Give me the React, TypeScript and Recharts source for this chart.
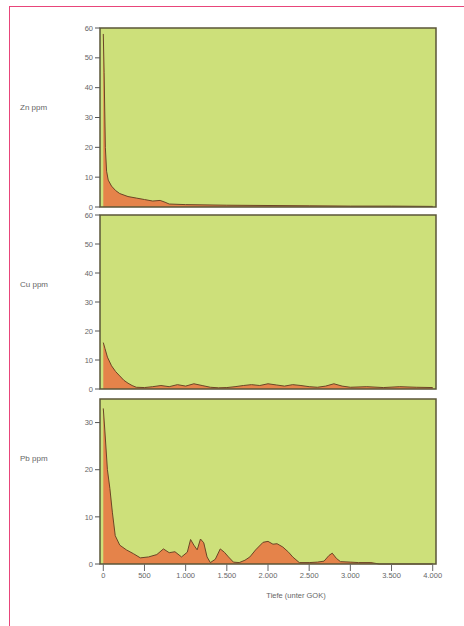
import React from 'react';
import { AreaChart, Area, XAxis, YAxis, CartesianGrid, ReferenceArea } from 'recharts';

const xTicks = [0, 500, 1000, 1500, 2000, 2500, 3000, 3500, 4000];
const xDomain = [-40, 4040];

const znX = [0, 10, 25, 40, 60, 100, 150, 200, 300, 400, 500, 600, 690, 750, 800, 1000, 1500, 2000, 2500, 3000, 3500, 4000];
const znY = [58, 45, 20, 12, 9, 7, 5.5, 4.5, 3.5, 3, 2.5, 2, 2.2, 1.6, 1, 0.8, 0.6, 0.5, 0.4, 0.3, 0.3, 0.2];

const cuX = [0, 20, 50, 100, 150, 200, 250, 300, 350, 400, 500, 600, 700, 800, 900, 1000, 1100, 1200, 1300, 1400, 1500, 1600, 1700, 1800, 1900, 2000, 2100, 2200, 2300, 2400, 2500, 2600, 2700, 2800, 2900, 3000, 3200, 3400, 3600, 3800, 4000];
const cuY = [16, 14, 11, 8, 6, 4.5, 3, 2, 1.2, 0.6, 0.5, 0.8, 1.2, 0.8, 1.5, 1.0, 1.8, 1.2, 0.6, 0.4, 0.5, 0.8, 1.2, 1.5, 1.2, 1.8, 1.4, 1.0, 1.5, 1.2, 0.8, 0.6, 1.0, 1.8, 1.0, 0.6, 0.8, 0.5, 0.8, 0.6, 0.5];

const pbX = [0, 20, 50, 80, 110, 145, 200, 280, 365, 450, 550, 650, 730, 800, 870, 950, 1020, 1060, 1100, 1140, 1180, 1220, 1260, 1300, 1360, 1420, 1470, 1520, 1580, 1650, 1720, 1780, 1850, 1940, 2000, 2060, 2110, 2180, 2250, 2300, 2380, 2500, 2600, 2680, 2740, 2780, 2830, 2880, 3000, 3100, 3250, 3350, 4000];
const pbY = [33, 28, 20, 16, 11, 6, 4, 3, 2.2, 1.3, 1.5, 2, 3.2, 2.4, 2.6, 1.5, 2.5, 5.2, 4, 3, 5.3, 4.5, 1.5, 0.3, 1, 3.2, 2.5, 1.5, 0.4, 0.3, 0.8, 1.5, 3, 4.6, 4.8, 4.2, 4.3, 3.6, 2.5, 1.5, 0.3, 0.3, 0.4, 0.6, 1.8, 2.3, 1.2, 0.5, 0.4, 0.3, 0.3, 0, 0];

const labels = ['Zn ppm', 'Cu ppm', 'Pb ppm'];
const xLabel = 'Tiefe (unter GOK)';

const toRows = (xs: number[], ys: number[]) => xs.map((x, i) => ({ x, v: ys[i] }));

const W = 464;
const H = 626;
const GREEN = '#cde07a';
const ORANGE = '#e5834a';
const DARK = '#5b5538';
const FONT = 'Liberation Sans, Arial, sans-serif';

const fmt = (v: number) => (v >= 1000 ? `${Math.floor(v / 1000)}.${String(v % 1000).padStart(3, '0')}` : String(v));

type PanelProps = {
  xs: number[];
  ys: number[];
  top: number;
  bottom: number;
  yMax: number;
  yTicks: number[];
  label: string;
  labelDy: number;
  showX?: boolean;
};

function Panel({ xs, ys, top, bottom, yMax, yTicks, label, labelDy, showX }: PanelProps) {
  const data = toRows(xs, ys);
  const xAxisH = showX ? 30 : 0;
  return (
    <div style={{ position: 'absolute', left: 0, top: 0 }}>
      <AreaChart
        width={W}
        height={H}
        data={data}
        margin={{ top, bottom: H - bottom - xAxisH, left: 0, right: W - 436 }}
      >
        <CartesianGrid horizontal={false} vertical={false} fill={GREEN} stroke="none" />
        <XAxis
          type="number"
          dataKey="x"
          domain={xDomain}
          ticks={xTicks}
          allowDataOverflow
          hide={!showX}
          height={xAxisH}
          axisLine={false}
          tickLine={{ stroke: '#666' }}
          tickSize={7}
          tick={{ fontSize: 7.5, fill: '#666', fontFamily: FONT }}
          tickFormatter={fmt}
          label={showX ? { value: xLabel, position: 'insideBottom', offset: 0, dx: 28, dy: 4, fontSize: 7.5, fill: '#666', fontFamily: FONT } : undefined}
        />
        <YAxis
          type="number"
          domain={[0, yMax]}
          ticks={yTicks}
          width={100}
          axisLine={false}
          tickLine={{ stroke: '#555' }}
          tickSize={5}
          tick={{ fontSize: 7.5, fill: '#666', fontFamily: FONT }}
          label={{ value: label, position: 'insideLeft', offset: 20, dy: labelDy, fontSize: 8, fill: '#666', fontFamily: FONT, angle: 0, textAnchor: 'start' }}
        />
        <Area
          type="linear"
          dataKey="v"
          fill={ORANGE}
          fillOpacity={1}
          stroke="#6b4526"
          strokeWidth={1}
          isAnimationActive={false}
          dot={false}
          activeDot={false}
        />
        <ReferenceArea x1={xDomain[0]} x2={xDomain[1]} y1={0} y2={yMax} fill="none" stroke={DARK} strokeWidth={1.5} />
      </AreaChart>
    </div>
  );
}

export default function App() {
  return (
    <div style={{ position: 'absolute', left: 0, top: 0, width: W, height: H, background: '#fff', overflow: 'hidden' }}>
      <div
        style={{
          position: 'absolute',
          left: 9,
          top: 6,
          width: W - 9,
          height: H - 6,
          borderLeft: '1.5px solid #e8457a',
          borderTop: '1.5px solid #e8457a',
        }}
      />
      <Panel xs={znX} ys={znY} top={28} bottom={207} yMax={60} yTicks={[0, 10, 20, 30, 40, 50, 60]} label={labels[0]} labelDy={-10} />
      <Panel xs={cuX} ys={cuY} top={215} bottom={389} yMax={60} yTicks={[0, 10, 20, 30, 40, 50, 60]} label={labels[1]} labelDy={-18} />
      <Panel xs={pbX} ys={pbY} top={399} bottom={564} yMax={35} yTicks={[0, 10, 20, 30]} label={labels[2]} labelDy={-23} showX />
    </div>
  );
}
